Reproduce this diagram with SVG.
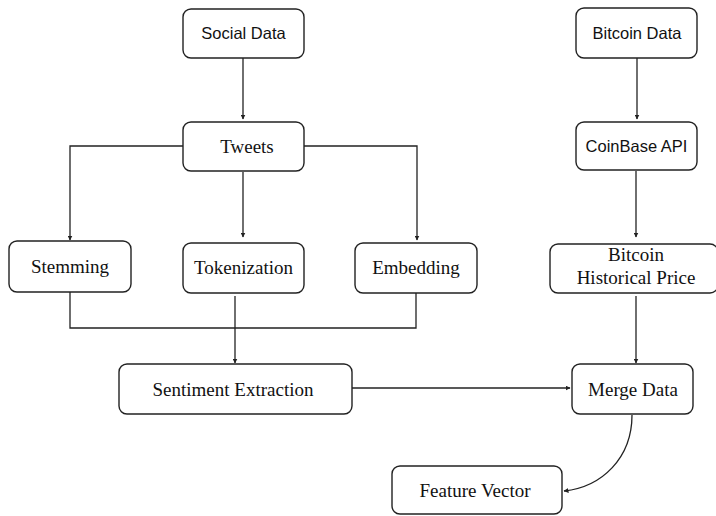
<svg xmlns="http://www.w3.org/2000/svg" width="716" height="516" viewBox="0 0 716 516">
<defs>
<marker id="ah" viewBox="0 0 10 10" refX="9" refY="5" markerWidth="5" markerHeight="5" markerUnits="userSpaceOnUse" orient="auto">
<path d="M0,0 L10,5 L0,10 z" fill="#222"/>
</marker>
<style>
.box{fill:#fff;stroke:#222;stroke-width:1.4}
.sans{font-family:"Liberation Sans",Arial,sans-serif;font-size:16.5px;fill:#111;text-anchor:middle}
.serif{font-family:"Liberation Serif","Times New Roman",serif;font-size:19px;fill:#111;text-anchor:middle}
.ln{fill:none;stroke:#222;stroke-width:1.3}
.ar{fill:none;stroke:#222;stroke-width:1.3;marker-end:url(#ah)}
</style>
</defs>
<rect width="716" height="516" fill="#fff"/>
<g id="connectors">
<path class="ar" d="M243,58 V119"/>
<path class="ar" d="M183,146 H70 V240"/>
<path class="ar" d="M243,172 V237"/>
<path class="ar" d="M304,146 H417 V240"/>
<path class="ar" d="M637,58 V119"/>
<path class="ar" d="M636,171 V237"/>
<path class="ln" d="M70,292 V328 H416 V293"/>
<path class="ar" d="M235,296 V363"/>
<path class="ar" d="M636,296 V363"/>
<path class="ar" d="M352,388 H570"/>
<path class="ar" d="M632,415 C632,458 602,487 564,491"/>
</g>
<g id="social-data"><rect class="box" x="183" y="9" width="121" height="49" rx="8"/><text class="sans" x="243.5" y="39">Social Data</text></g>
<g id="tweets"><rect class="box" x="183" y="122" width="121" height="49" rx="8"/><text class="serif" x="247" y="153">Tweets</text></g>
<g id="bitcoin-data"><rect class="box" x="576" y="8" width="121" height="50" rx="8"/><text class="sans" x="637" y="39">Bitcoin Data</text></g>
<g id="coinbase-api"><rect class="box" x="576" y="122" width="121" height="48" rx="8"/><text class="sans" x="636.5" y="152">CoinBase API</text></g>
<g id="stemming"><rect class="box" x="9" y="241" width="122" height="51" rx="8"/><text class="serif" x="70" y="273">Stemming</text></g>
<g id="tokenization"><rect class="box" x="183" y="243" width="121" height="50" rx="8"/><text class="serif" x="243.5" y="274">Tokenization</text></g>
<g id="embedding"><rect class="box" x="355" y="243" width="122" height="50" rx="8"/><text class="serif" x="416" y="274">Embedding</text></g>
<g id="bitcoin-historical-price"><rect class="box" x="550" y="244" width="168" height="49" rx="8"/><text class="serif" x="636" y="261">Bitcoin</text><text class="serif" x="636" y="284">Historical Price</text></g>
<g id="sentiment-extraction"><rect class="box" x="119" y="364" width="233" height="50" rx="8"/><text class="serif" x="233" y="395.5">Sentiment Extraction</text></g>
<g id="merge-data"><rect class="box" x="572" y="364" width="121" height="50" rx="8"/><text class="serif" x="633" y="395.5">Merge Data</text></g>
<g id="feature-vector"><rect class="box" x="392" y="466" width="170" height="48" rx="8"/><text class="serif" x="475" y="497">Feature Vector</text></g>
</svg>
